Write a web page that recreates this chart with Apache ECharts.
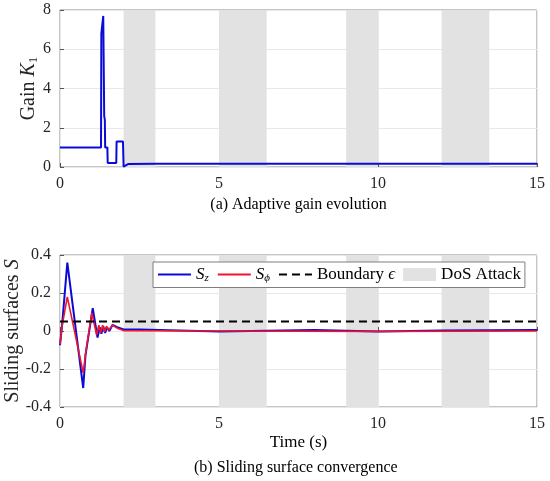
<!DOCTYPE html>
<html lang="en">
<head>
  <meta charset="UTF-8">
  <title>Adaptive gain and sliding surfaces</title>
  <style>
    html, body { margin: 0; padding: 0; background: #fff; }
  </style>
</head>
<body>
  <div id="chart" style="width:550px;height:481px;"></div>
</body>
</html>
<script src="https://cdn.jsdelivr.net/npm/echarts@6/dist/echarts.min.js"></script>
<script>
  // DoS attack windows (s)
  var dosStart = [2, 5, 9, 12];
  var dosEnd = [3, 6.5, 10, 13.5];

  // (a) adaptive gain K1
  var kTime = [0, 1.29, 1.30, 1.34, 1.36, 1.38, 1.39, 1.41, 1.42, 1.49, 1.50, 1.77, 1.78, 1.98, 2.0, 2.06, 2.14, 3, 5, 8, 10, 13, 15];
  var kGain = [1.0, 1.0, 6.8, 6.8, 7.7, 7.7, 2.6, 2.4, 1.0, 1.0, 0.2, 0.2, 1.3, 1.3, 0.02, 0.06, 0.15, 0.16, 0.16, 0.17, 0.17, 0.17, 0.16];

  // (b) sliding surfaces
  var szTime = [0, 0.06, 0.23, 0.73, 0.80, 1.03, 1.18, 1.25, 1.30, 1.36, 1.42, 1.48, 1.55, 1.65, 1.80, 2.0, 2.5, 5, 8, 10, 12, 15];
  var szVal = [-0.075, 0.02, 0.36, -0.30, -0.13, 0.12, -0.035, 0.02, -0.015, 0.025, -0.01, 0.02, 0.0, 0.032, 0.02, 0.008, 0.008, -0.003, 0.005, -0.002, 0.003, 0.005];
  var spTime = [0, 0.06, 0.23, 0.73, 0.82, 1.0, 1.15, 1.22, 1.28, 1.34, 1.40, 1.46, 1.53, 1.65, 1.80, 2.0, 5, 10, 15];
  var spVal = [-0.07, 0.02, 0.18, -0.22, -0.10, 0.095, -0.02, 0.03, -0.01, 0.03, -0.005, 0.025, 0.005, 0.03, 0.015, 0.002, 0.0, -0.002, 0.0];

  var epsilon = 0.05;

  var serif = 'Liberation Serif';
  var txt = '#262626';
  var blue = '#0b0bd8';
  var red = '#f0142e';
  var shade = '#e2e2e2';

  function pairs(xs, ys) {
    var out = [];
    for (var i = 0; i < xs.length; i++) out.push([xs[i], ys[i]]);
    return out;
  }

  var dosAreas = [];
  for (var i = 0; i < dosStart.length; i++) {
    dosAreas.push([{ xAxis: dosStart[i] }, { xAxis: dosEnd[i] }]);
  }

  var rich = {
    n: { fontFamily: serif, fontSize: 20, color: txt },
    i: { fontFamily: serif, fontSize: 20, fontStyle: 'italic', color: txt },
    s1: { fontFamily: serif, fontSize: 13, color: txt, verticalAlign: 'bottom', padding: [9, 0, 0, 0] }
  };

  var legendRich = {
    i: { fontFamily: serif, fontSize: 17, fontStyle: 'italic', color: '#000' },
    s: { fontFamily: serif, fontSize: 11, fontStyle: 'italic', color: '#000', verticalAlign: 'bottom', padding: [7, 0, 0, 0] },
    n: { fontFamily: serif, fontSize: 17, color: '#000' }
  };
  var legendText = {
    'Sz': '{i|S}{s|z}',
    'Sphi': '{i|S}{s|ϕ}',
    'Boundary': '{n|Boundary }{i|ϵ}',
    'DoS Attack': '{n|DoS Attack}'
  };

  var tickLabel = { fontFamily: serif, fontSize: 16, color: txt, margin: 9 };
  var tick = { show: true, inside: true, length: 4, lineStyle: { color: '#555' } };
  var split = { show: true, lineStyle: { color: '#e8e8e8' } };

  function xAx(gridIndex, name, gap) {
    return {
      type: 'value', gridIndex: gridIndex, min: 0, max: 15, interval: 5,
      name: name, nameLocation: 'middle', nameGap: gap, nameMoveOverlap: false,
      nameTextStyle: { fontFamily: serif, fontSize: gridIndex === 0 ? 16 : 17, color: '#000' },
      axisLine: { show: false },
      axisTick: tick,
      axisLabel: tickLabel,
      splitLine: split
    };
  }

  var myChart = echarts.init(document.getElementById('chart'));
  var option = {
    animation: false,
    backgroundColor: '#fff',
    textStyle: { fontFamily: serif },
    grid: [
      { left: 60, top: 10, width: 477, height: 157, show: true, borderColor: '#8c8c8c', borderWidth: 1, backgroundColor: 'transparent', containLabel: false, outerBoundsMode: 'none' },
      { left: 60, top: 255, width: 477, height: 152, show: true, borderColor: '#8c8c8c', borderWidth: 1, backgroundColor: 'transparent', containLabel: false, outerBoundsMode: 'none' }
    ],
    xAxis: [xAx(0, '(a) Adaptive gain evolution', 30), xAx(1, 'Time (s)', 27)],
    yAxis: [
      {
        type: 'value', gridIndex: 0, min: 0, max: 8, interval: 2,
        name: '{n|Gain }{i|K}{s1|1}', nameLocation: 'middle', nameGap: 20, nameMoveOverlap: false,
        nameTextStyle: { rich: rich },
        axisLine: { show: false },
        axisTick: tick,
        axisLabel: tickLabel,
        splitLine: split
      },
      {
        type: 'value', gridIndex: 1, min: -0.4, max: 0.4, interval: 0.2,
        name: '{n|Sliding surfaces }{i|S}', nameLocation: 'middle', nameGap: 37, nameMoveOverlap: false,
        nameTextStyle: { rich: rich },
        axisLine: { show: false },
        axisTick: tick,
        axisLabel: {
          fontFamily: serif, fontSize: 16, color: txt, margin: 9,
          formatter: function (v) { return String(Math.round(v * 10) / 10); }
        },
        splitLine: split
      }
    ],
    legend: {
      left: 153, top: 262,
      orient: 'horizontal',
      itemWidth: 33, itemHeight: 13, itemGap: 8,
      padding: [4, 4, 4, 4],
      backgroundColor: '#fff',
      borderColor: '#7f7f7f', borderWidth: 1,
      data: [
        { name: 'Sz', itemStyle: { opacity: 0 } },
        { name: 'Sphi', itemStyle: { opacity: 0 } },
        { name: 'Boundary', itemStyle: { opacity: 0 } },
        { name: 'DoS Attack', icon: 'rect', itemStyle: { color: shade } }
      ],
      formatter: function (name) { return legendText[name]; },
      textStyle: { rich: legendRich, fontFamily: serif, fontSize: 17 }
    },
    graphic: [{
      type: 'text', left: 298 - 104, top: 460,
      style: { text: '(b) Sliding surface convergence', font: '16px ' + serif, fill: '#000' }
    }],
    series: [
      {
        name: 'DoS top', type: 'line', xAxisIndex: 0, yAxisIndex: 0, data: [], z: 1,
        markArea: { silent: true, itemStyle: { color: shade }, data: dosAreas }
      },
      {
        name: 'K1', type: 'line', xAxisIndex: 0, yAxisIndex: 0, symbol: 'none', z: 3,
        lineStyle: { color: blue, width: 2 }, itemStyle: { color: blue },
        data: pairs(kTime, kGain)
      },
      {
        name: 'DoS Attack', type: 'line', xAxisIndex: 1, yAxisIndex: 1, data: [], z: 1,
        itemStyle: { color: shade }, lineStyle: { color: shade },
        markArea: { silent: true, itemStyle: { color: shade }, data: dosAreas }
      },
      {
        name: 'Sz', type: 'line', xAxisIndex: 1, yAxisIndex: 1, symbol: 'none', z: 3,
        lineStyle: { color: blue, width: 2 }, itemStyle: { color: blue },
        data: pairs(szTime, szVal)
      },
      {
        name: 'Sphi', type: 'line', xAxisIndex: 1, yAxisIndex: 1, symbol: 'none', z: 4,
        lineStyle: { color: red, width: 1.6 }, itemStyle: { color: red },
        data: pairs(spTime, spVal)
      },
      {
        name: 'Boundary', type: 'line', xAxisIndex: 1, yAxisIndex: 1, symbol: 'none', z: 5,
        lineStyle: { color: '#000', width: 2, type: [8, 5] }, itemStyle: { color: '#000' },
        data: [[0, epsilon], [15, epsilon]]
      }
    ]
  };

  myChart.setOption(option);
</script>
